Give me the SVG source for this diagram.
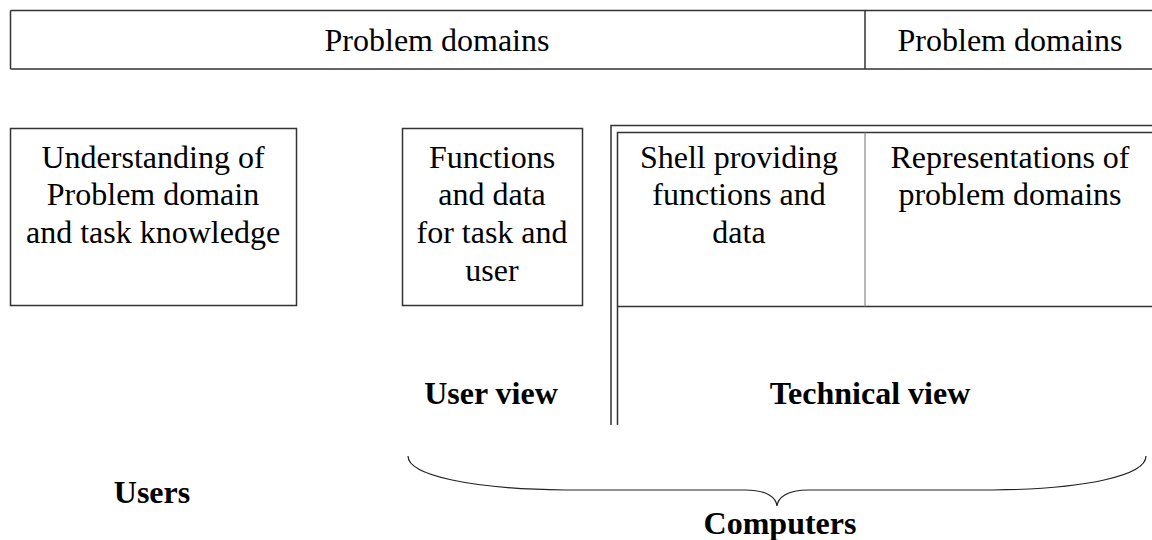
<svg xmlns="http://www.w3.org/2000/svg" width="1152" height="540" viewBox="0 0 1152 540">
  <style>
    .t { font-family: "Liberation Serif", "Times New Roman", serif; font-size: 32px; fill: #000; text-anchor: middle; }
    .b { font-weight: bold; }
    .box { fill: none; stroke: #333; stroke-width: 1.5; }
    .ln { fill: none; stroke: #333; stroke-width: 1.5; }
    .thin { fill: none; stroke: #888; stroke-width: 1.2; }
  </style>
  <rect width="1152" height="540" fill="#fff"/>

  <!-- top band of problem domains -->
  <g id="problem-domains">
    <path class="ln" d="M10.5 10.5 H1152 M10.5 69 H1152 M10.5 10.5 V69"/>
    <path class="ln" d="M865 10.5 V69" stroke-width="1"/>
    <text class="t" x="437" y="51">Problem domains</text>
    <text class="t" x="1010" y="51">Problem domains</text>
  </g>

  <g id="understanding">
    <rect class="box" x="10.5" y="128.5" width="286" height="177"/>
    <text class="t" x="153" y="168">Understanding of</text>
    <text class="t" x="153" y="205">Problem domain</text>
    <text class="t" x="153" y="243">and task knowledge</text>
  </g>

  <g id="functions">
    <rect class="box" x="402.5" y="128.5" width="180" height="177"/>
    <text class="t" x="492" y="168">Functions</text>
    <text class="t" x="492" y="205">and data</text>
    <text class="t" x="492" y="243">for task and</text>
    <text class="t" x="492" y="281">user</text>
  </g>

  <!-- technical view frame with double border -->
  <g id="technical">
    <path class="ln" d="M611 425 V125.5 H1152"/>
    <path class="ln" d="M617.5 425 V132.5 H1152"/>
    <path class="ln" d="M617.5 306.5 H1152"/>
    <path class="thin" d="M865 132.5 V306.5"/>
    <text class="t" x="739" y="168">Shell providing</text>
    <text class="t" x="739" y="205">functions and</text>
    <text class="t" x="739" y="243">data</text>
    <text class="t" x="1010" y="168">Representations of</text>
    <text class="t" x="1010" y="205">problem domains</text>
  </g>

  <g id="labels">
    <text class="t b" x="491" y="404">User view</text>
    <text class="t b" x="870" y="404">Technical view</text>
    <text class="t b" x="152" y="503">Users</text>
    <text class="t b" x="780" y="534">Computers</text>
  </g>

  <!-- curly brace spanning the computer side -->
  <g id="connectors">
    <path fill="none" stroke="#222" stroke-width="1.2"
      d="M408 456 C408 475 470 489 565 490 H745 C768 490 776 498 777 506 C778 498 786 490 809 490 H993 C1088 489 1146 475 1146 456"/>
  </g>
</svg>
